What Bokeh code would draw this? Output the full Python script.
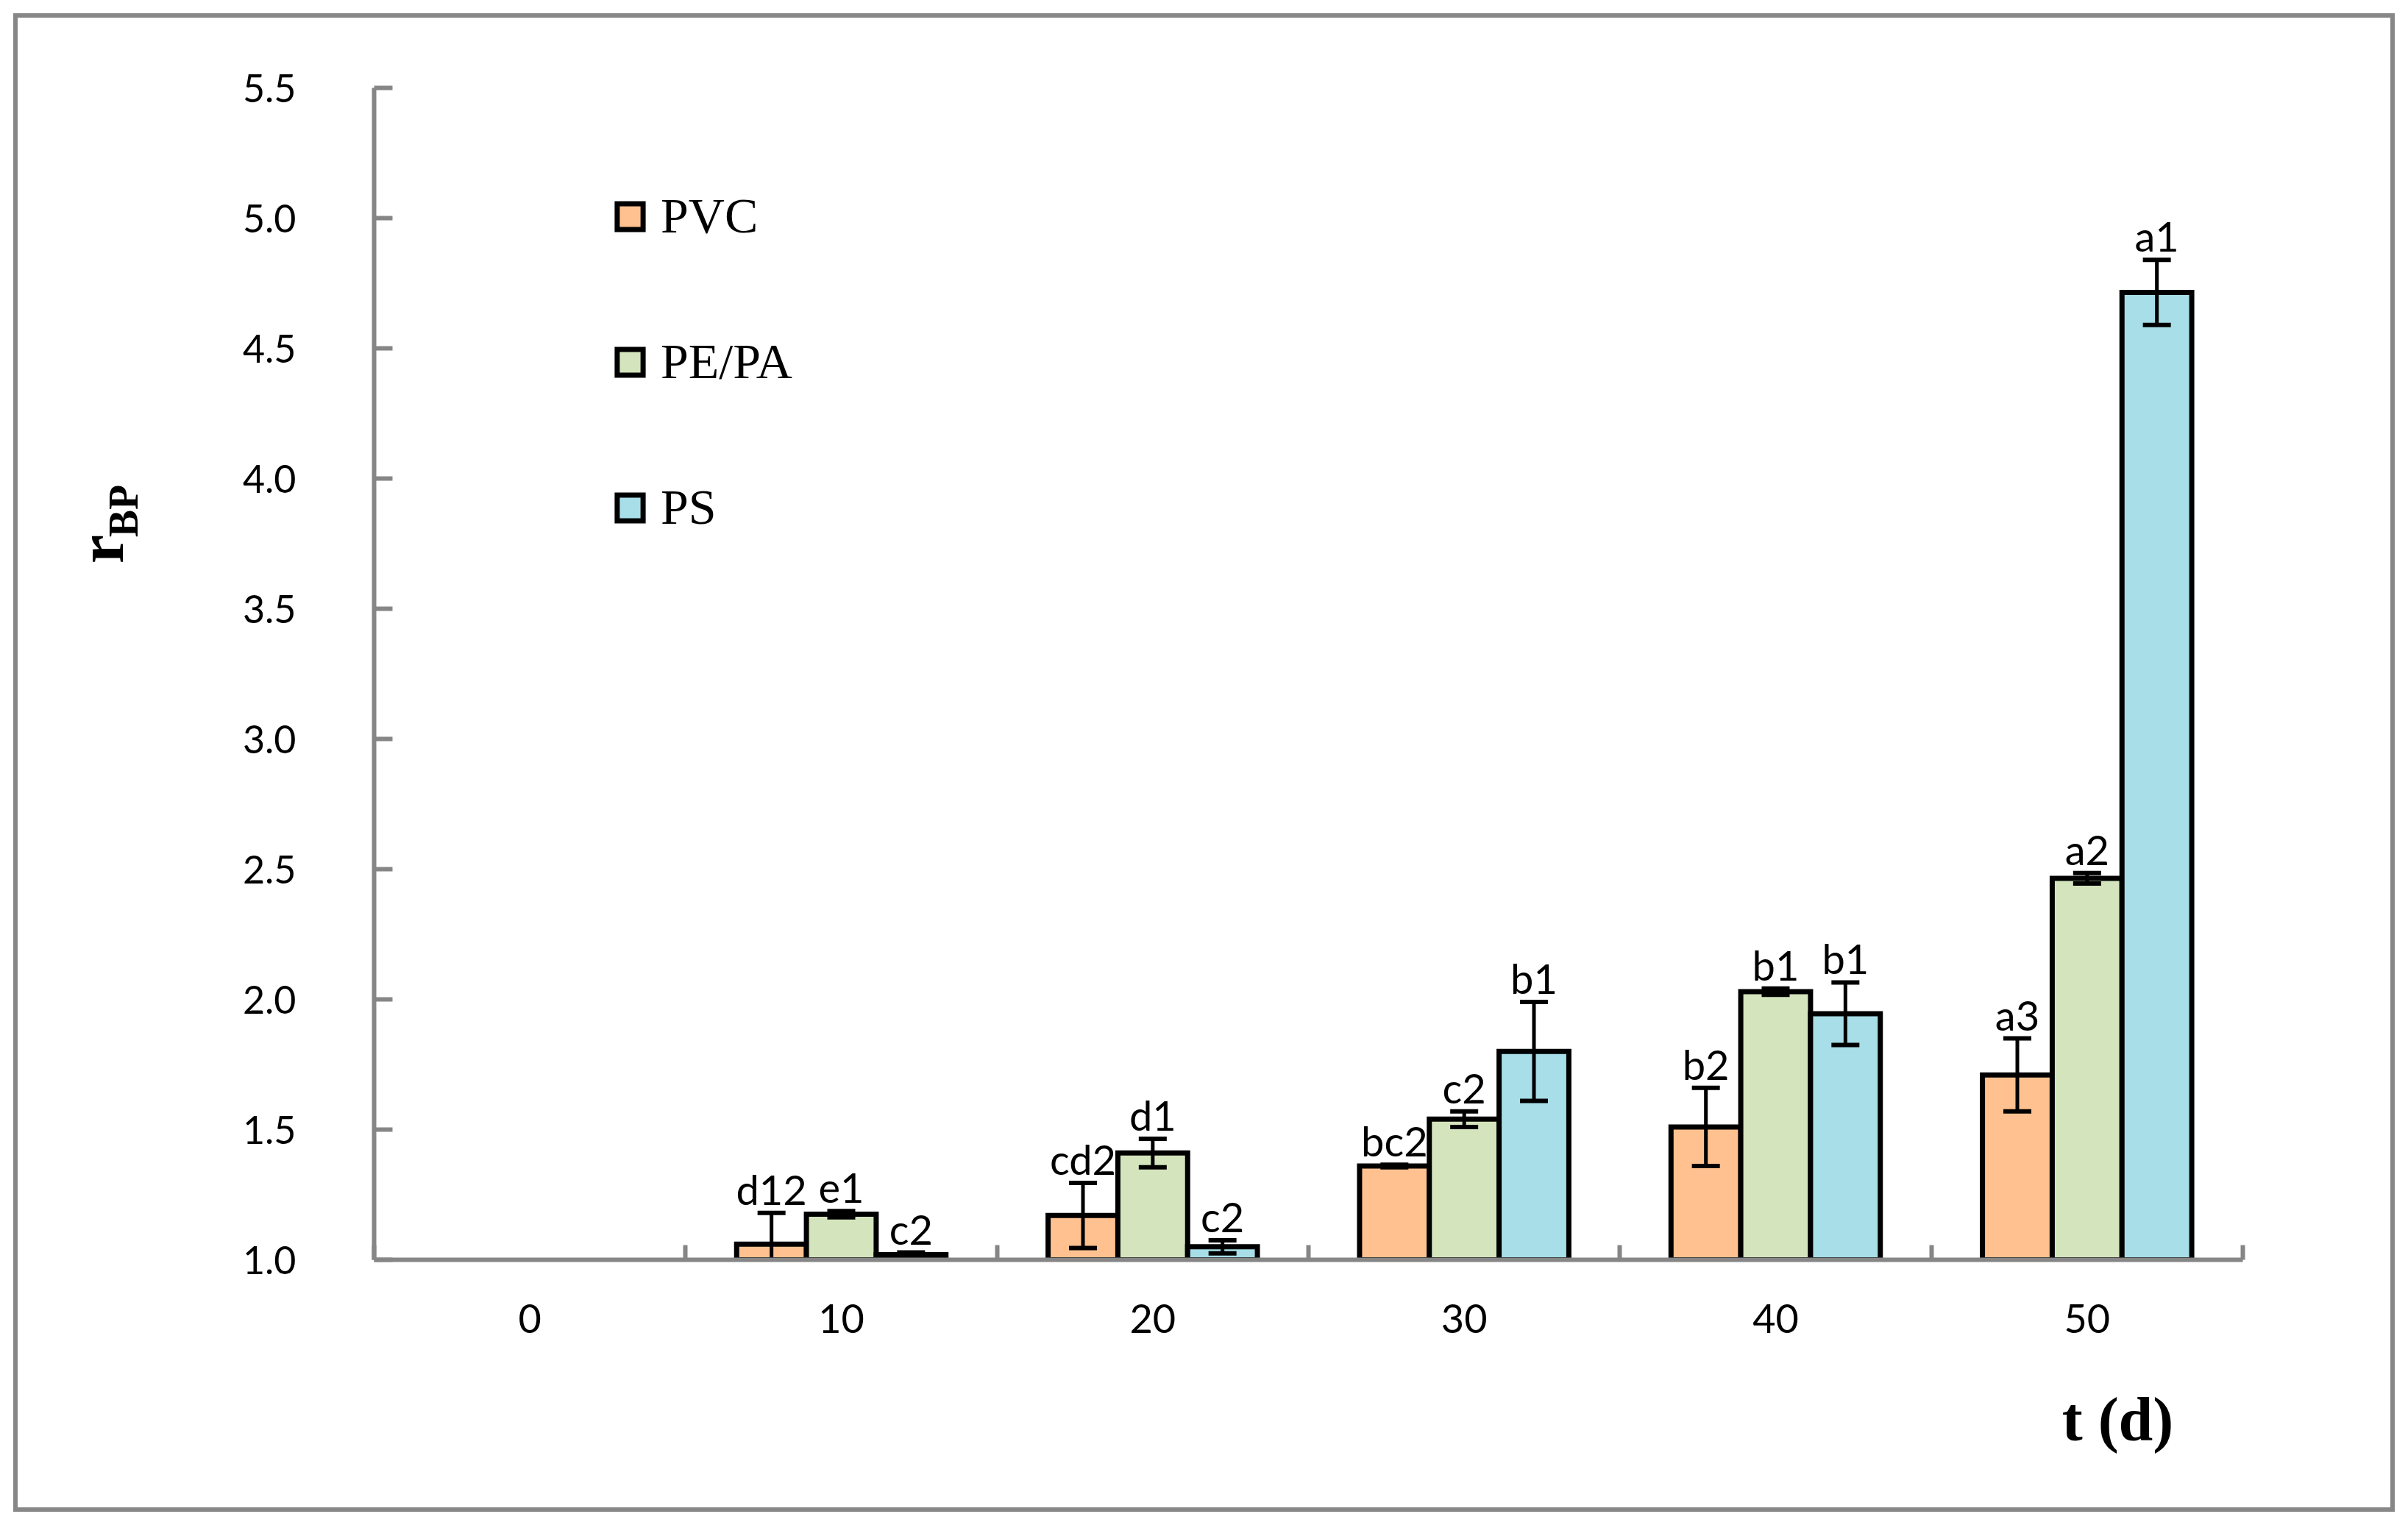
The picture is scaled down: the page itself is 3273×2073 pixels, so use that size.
import math
import numpy as np
from bokeh.plotting import figure
from bokeh.models import (Range1d, FixedTicker, NumeralTickFormatter, SingleIntervalTicker,
                          ColumnDataSource, Whisker, TeeHead, LabelSet, Legend,
                          LegendItem, LinearAxis)
from bokeh.core.properties import value
from bokeh.embed import file_html
from bokeh.resources import INLINE

nan = float("nan")

# ---------------- data ----------------
t_labels = ["0", "10", "20", "30", "40", "50"]
series_names = ["PVC", "PE/PA", "PS"]

pvc = [nan, 1.06, 1.17, 1.36, 1.51, 1.71]
pvc_err = [nan, 0.12, 0.125, 0.005, 0.15, 0.14]
pvc_letters = ["", "d12", "cd2", "bc2", "b2", "a3"]

pepa = [nan, 1.175, 1.41, 1.54, 2.03, 2.465]
pepa_err = [nan, 0.012, 0.055, 0.03, 0.012, 0.02]
pepa_letters = ["", "e1", "d1", "c2", "b1", "a2"]

ps = [nan, 1.02, 1.05, 1.80, 1.945, 4.715]
ps_err = [nan, 0.008, 0.025, 0.19, 0.12, 0.125]
ps_letters = ["", "c2", "c2", "b1", "b1", "a1"]

x_title = "t (d)"
y_title_main, y_title_sub = "r", "BP"

y_ticks_interval = 0.5
y_start, y_end = 1.0, 5.5

colors = ["#FFC18F", "#D4E4BD", "#A7DEE8"]

# ---------------- layout (canvas px) ----------------
W, H = 3257, 2057
FL, FR, FT, FB = 508, 3048, 119, 1712
n = len(t_labels)
BW = 0.224


def px2x(px):
    return (px - FL) / (FR - FL) * n


def px2y(py):
    return y_start + (FB - py) / (FB - FT) * (y_end - y_start)


GR = "#878787"
border_css = ", ".join([
    f"linear-gradient({GR},{GR}) 18px 18px / 3237px 6px no-repeat",
    f"linear-gradient({GR},{GR}) 18px 2049px / 3237px 6px no-repeat",
    f"linear-gradient({GR},{GR}) 18px 18px / 6px 2037px no-repeat",
    f"linear-gradient({GR},{GR}) 3249px 18px / 6px 2037px no-repeat",
    "white",
])

p = figure(width=W, height=H, x_range=Range1d(0, n), y_range=Range1d(y_start, y_end),
           output_backend="svg", toolbar_location=None,
           min_border_left=FL, min_border_right=W - FR,
           min_border_top=FT, min_border_bottom=H - FB,
           styles={"background": border_css})
p.title.visible = False
p.outline_line_color = None
p.xgrid.grid_line_color = None
p.ygrid.grid_line_color = None
p.background_fill_color = "white"
p.border_fill_color = None

AX = "#868686"
centers = np.arange(n) + 0.5

# x axis
xa = p.xaxis[0]
xa.ticker = FixedTicker(ticks=list(centers), minor_ticks=list(np.arange(n + 1)))
xa.major_label_overrides = {float(c): lab for c, lab in zip(centers, t_labels)}
xa.major_tick_in = 0
xa.major_tick_out = 0
xa.minor_tick_in = 20
xa.minor_tick_out = 0
xa.minor_tick_line_color = AX
xa.minor_tick_line_width = 6
xa.axis_line_color = AX
xa.axis_line_width = 6
xa.major_label_text_font = "Lato"
xa.major_label_text_font_size = "54px"
xa.major_label_text_color = "black"
xa.major_label_standoff = 60

# y axis
ya = p.yaxis[0]
ya.ticker = SingleIntervalTicker(interval=y_ticks_interval, num_minor_ticks=0)
ya.formatter = NumeralTickFormatter(format="0.0")
ya.major_tick_in = 25
ya.major_tick_out = 0
ya.major_tick_line_color = AX
ya.major_tick_line_width = 6
ya.minor_tick_line_color = None
ya.axis_line_color = AX
ya.axis_line_width = 6
ya.major_label_text_font = "Lato"
ya.major_label_text_font_size = "52px"
ya.major_label_text_color = "black"
ya.major_label_standoff = 106


def title_axis(side, pos, text, size, standoff, orient="horizontal"):
    ax = LinearAxis(ticker=FixedTicker(ticks=[pos], minor_ticks=[]),
                    major_label_overrides={pos: text},
                    axis_line_color=None, major_tick_line_color=None,
                    minor_tick_line_color=None, major_tick_in=0, major_tick_out=0,
                    major_label_text_font="Liberation Serif",
                    major_label_text_font_style="bold",
                    major_label_text_font_size=size, major_label_text_color="black",
                    major_label_standoff=standoff, major_label_orientation=orient)
    p.add_layout(ax, side)
    return ax


# axis titles as single-label axes (outside the frame)
title_axis("below", px2x(2878), x_title, "84px", 68)
title_axis("left", px2y(694), y_title_sub, "56px", 128, "vertical")
title_axis("left", px2y(746), y_title_main, "88px", -52, "vertical")

# bars, whiskers, letters
all_vals = [pvc, pepa, ps]
all_errs = [pvc_err, pepa_err, ps_err]
all_letters = [pvc_letters, pepa_letters, ps_letters]
offsets = [-BW, 0.0, BW]
renderers = []
for vals, errs, lets, off, col in zip(all_vals, all_errs, all_letters, offsets, colors):
    v = np.array(vals, dtype=float)
    e = np.array(errs, dtype=float)
    src = ColumnDataSource(dict(
        x=centers + off, top=v,
        upper=v + e, lower=np.maximum(v - e, y_start),
        lab_y=v + e, letter=lets))
    r = p.vbar(x="x", width=BW, bottom=y_start, top="top", source=src,
               fill_color=col, line_color="black", line_width=7, line_join="miter")
    renderers.append(r)
    wh = Whisker(source=src, base="x", upper="upper", lower="lower", dimension="height",
                 line_color="black", line_width=5, level="glyph",
                 upper_head=TeeHead(size=38, line_color="black", line_width=6),
                 lower_head=TeeHead(size=38, line_color="black", line_width=6))
    p.add_layout(wh)
    ls = LabelSet(source=src, x="x", y="lab_y", text="letter", text_align="center",
                  text_baseline="alphabetic", y_offset=11, text_font=value("Lato"),
                  text_font_size=value("56px"), text_color="black")
    p.add_layout(ls)

legend = Legend(items=[LegendItem(label=nm, renderers=[r]) for nm, r in zip(series_names, renderers)],
                location=(326, 983), glyph_width=44, glyph_height=44, label_height=44,
                spacing=119, padding=0, margin=0, label_standoff=20,
                label_text_font="Liberation Serif", label_text_font_size="68px",
                label_text_color="black",
                background_fill_alpha=0, border_line_color=None)
p.add_layout(legend, "center")

open("out.html", "w").write(file_html(p, INLINE))
